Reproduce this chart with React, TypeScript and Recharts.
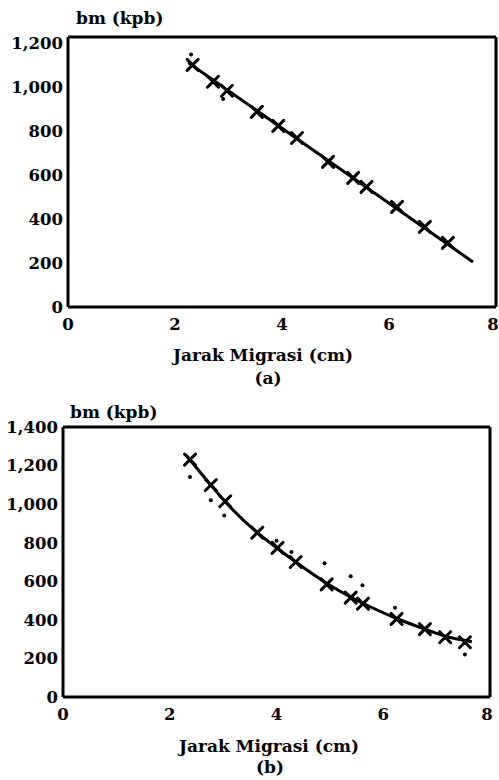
import React from 'react';
import { ComposedChart, Line, Scatter, XAxis, YAxis, ReferenceLine } from 'recharts';

// Panel (a)
const aXTicks = [0, 2, 4, 6, 8];
const aYTicks = [0, 200, 400, 600, 800, 1000, 1200];
const aLine = [
  { x: 2.25, y: 1113 },
  { x: 7.57, y: 205 },
];
const aMarks = [
  { x: 2.33, y: 1103 }, { x: 2.71, y: 1026 }, { x: 2.97, y: 985 }, { x: 3.53, y: 889 },
  { x: 3.93, y: 825 }, { x: 4.28, y: 770 }, { x: 4.86, y: 661 }, { x: 5.33, y: 588 },
  { x: 5.58, y: 547 }, { x: 6.15, y: 456 }, { x: 6.67, y: 365 }, { x: 7.1, y: 292 },
];
const aDots = [
  { x: 2.3, y: 1150 },
  { x: 2.9, y: 948 },
];

// Panel (b)
const bXTicks = [0, 2, 4, 6, 8];
const bYTicks = [0, 200, 400, 600, 800, 1000, 1200, 1400];
const bCurve = [
  { x: 2.31, y: 1252 }, { x: 2.77, y: 1099 }, { x: 3.04, y: 1012 }, { x: 3.64, y: 852 },
  { x: 4.02, y: 770 }, { x: 4.36, y: 700 }, { x: 4.94, y: 590 }, { x: 5.39, y: 518 },
  { x: 5.62, y: 486 }, { x: 6.25, y: 407 }, { x: 6.78, y: 352 }, { x: 7.16, y: 315 },
  { x: 7.53, y: 293 }, { x: 7.66, y: 286 },
];
const bMarks = [
  { x: 2.38, y: 1231 }, { x: 2.77, y: 1099 }, { x: 3.04, y: 1015 }, { x: 3.64, y: 852 },
  { x: 4.02, y: 773 }, { x: 4.36, y: 700 }, { x: 4.94, y: 584 }, { x: 5.39, y: 515 },
  { x: 5.62, y: 484 }, { x: 6.25, y: 405 }, { x: 6.78, y: 352 }, { x: 7.16, y: 310 },
  { x: 7.53, y: 284 },
];
const bDots = [
  { x: 2.38, y: 1141 }, { x: 2.77, y: 1020 }, { x: 3.02, y: 941 }, { x: 4.0, y: 810 },
  { x: 4.28, y: 752 }, { x: 4.9, y: 694 }, { x: 5.39, y: 626 }, { x: 5.61, y: 579 },
  { x: 6.22, y: 463 }, { x: 7.53, y: 221 },
];

const yLabel = 'bm (kpb)';
const xLabel = 'Jarak Migrasi (cm)';

const FONT = "'DejaVu Serif', serif";
const FS = 16.5;

const XTick = (props: any) => {
  const { x, y, payload } = props;
  const shift = payload.value === 8 ? -3 : 0;
  return (
    <text
      x={x + shift}
      y={y}
      dy="0.71em"
      textAnchor="middle"
      fill="#000"
      fontFamily={FONT}
      fontWeight="bold"
      fontSize={FS}
    >
      {payload.value}
    </text>
  );
};

const YTick = (props: any) => {
  const { x, y, payload } = props;
  return (
    <text
      x={x}
      y={y}
      dy="0.355em"
      textAnchor="end"
      fill="#000"
      fontFamily={FONT}
      fontWeight="bold"
      fontSize={FS}
    >
      {Number(payload.value).toLocaleString('en-US')}
    </text>
  );
};

const Cross = (props: any) => {
  const { cx, cy } = props;
  const r = 5.5;
  return (
    <g stroke="#000" strokeWidth={3} strokeLinecap="round">
      <line x1={cx - r} y1={cy - r} x2={cx + r} y2={cy + r} />
      <line x1={cx - r} y1={cy + r} x2={cx + r} y2={cy - r} />
    </g>
  );
};

const Dot = (props: any) => {
  const { cx, cy } = props;
  return <circle cx={cx} cy={cy} r={2} fill="#000" />;
};

const Text = ({ children, left, top, center, size = 17 }: any) => (
  <div
    style={{
      position: 'absolute',
      left,
      top: top - size * 0.6,
      transform: center ? 'translateX(-50%)' : undefined,
      fontFamily: FONT,
      fontWeight: 'bold',
      fontSize: size,
      lineHeight: 1.2,
      whiteSpace: 'nowrap',
      color: '#000',
    }}
  >
    {children}
  </div>
);

const Panel = ({ yTicks, yMax, xTicks, line, lineType, marks, dots, yWidth, mRight }: any) => (
  <ComposedChart
    width={499}
    height={390}
    margin={{ top: 37, right: mRight, bottom: 53, left: 8 }}
  >
    <XAxis
      type="number"
      dataKey="x"
      domain={[0, 8]}
      ticks={xTicks}
      interval={0}
      height={30}
      tickLine={false}
      tickSize={4}
      tickMargin={7}
      axisLine={{ stroke: '#000', strokeWidth: 3 }}
      tick={<XTick />}
      allowDataOverflow
    />
    <YAxis
      type="number"
      dataKey="y"
      domain={[0, yMax]}
      ticks={yTicks}
      interval={0}
      width={yWidth}
      tickLine={false}
      tickSize={3}
      tickMargin={2}
      axisLine={{ stroke: '#000', strokeWidth: 3 }}
      tick={<YTick />}
      allowDataOverflow
    />
    <ReferenceLine y={yMax} stroke="#000" strokeWidth={3} />
    <ReferenceLine x={8} stroke="#000" strokeWidth={3} />
    <Line
      data={line}
      dataKey="y"
      type={lineType}
      stroke="#000"
      strokeWidth={3}
      dot={false}
      activeDot={false}
      isAnimationActive={false}
    />
    <Scatter data={marks} dataKey="y" shape={Cross} isAnimationActive={false} />
    <Scatter data={dots} dataKey="y" shape={Dot} isAnimationActive={false} />
  </ComposedChart>
);

export default function App() {
  return (
    <div style={{ position: 'absolute', left: 0, top: 0, width: 499, height: 780, background: '#fff' }}>
      <div style={{ position: 'absolute', left: 0, top: 0 }}>
        <Panel
          yTicks={aYTicks}
          yMax={1230}
          xTicks={aXTicks}
          line={aLine}
          lineType="linear"
          marks={aMarks}
          dots={aDots}
          yWidth={60}
          mRight={3}
        />
      </div>
      <div style={{ position: 'absolute', left: 0, top: 390 }}>
        <Panel
          yTicks={bYTicks}
          yMax={1400}
          xTicks={bXTicks}
          line={bCurve}
          lineType="monotone"
          marks={bMarks}
          dots={bDots}
          yWidth={55}
          mRight={9}
        />
      </div>
      <Text left={76} top={18}>{yLabel}</Text>
      <Text left={263} top={355} center>{xLabel}</Text>
      <Text left={268} top={378} center>(a)</Text>
      <Text left={70} top={412}>{yLabel}</Text>
      <Text left={269} top={746} center>{xLabel}</Text>
      <Text left={270} top={767} center>(b)</Text>
    </div>
  );
}
